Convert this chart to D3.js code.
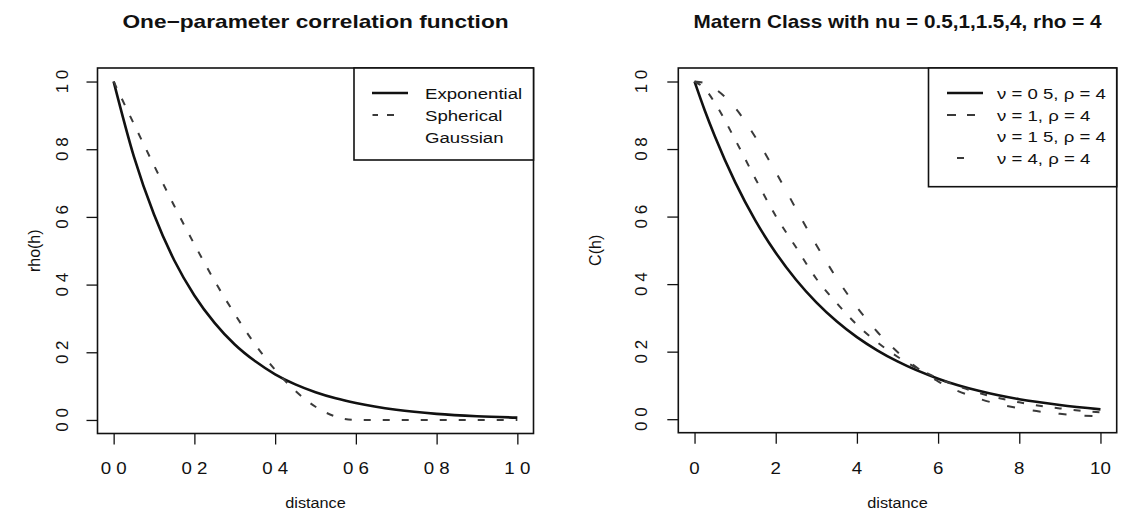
<!DOCTYPE html>
<html>
<head>
<meta charset="utf-8">
<script src="https://cdn.jsdelivr.net/npm/d3@7"></script>
<style>
  body { margin: 0; background: #fff; }
  svg { display: block; }
  text { font-family: "Liberation Sans", Arial, Helvetica, sans-serif; fill: #111; }
</style>
</head>
<body>
<svg id="chart" width="1124" height="523"></svg>
<script>
// ---- Left panel: one-parameter correlation functions, distance 0..1 ----
const leftDistance   = [0, 0.05, 0.1, 0.15, 0.2, 0.25, 0.3, 0.35, 0.4, 0.45, 0.5, 0.55, 0.6, 0.7, 0.8, 0.9, 1.0];
const exponentialRho = [1, 0.779, 0.607, 0.472, 0.368, 0.287, 0.223, 0.174, 0.135, 0.105, 0.082, 0.064, 0.050, 0.030, 0.018, 0.011, 0.007];
const sphericalRho   = [1, 0.875, 0.752, 0.633, 0.519, 0.411, 0.313, 0.224, 0.148, 0.086, 0.039, 0.010, 0, 0, 0, 0, 0];
const leftXTicks  = [0, 0.2, 0.4, 0.6, 0.8, 1.0];
const leftXLabels = ["0 0", "0 2", "0 4", "0 6", "0 8", "1 0"];
const leftLegend  = ["Exponential", "Spherical", "Gaussian"];

// ---- Right panel: Matern class, rho = 4, distance 0..10 ----
const rightDistance = [0, 0.25, 0.5, 1, 1.5, 2, 2.5, 3, 3.5, 4, 4.5, 5, 6, 7, 8, 9, 10];
const maternNu05 = [1, 0.915, 0.838, 0.702, 0.588, 0.493, 0.413, 0.346, 0.290, 0.243, 0.204, 0.171, 0.120, 0.084, 0.059, 0.042, 0.029];
const maternNu1  = [1, 0.979, 0.937, 0.828, 0.712, 0.602, 0.509, 0.416, 0.344, 0.280, 0.228, 0.185, 0.121, 0.078, 0.050, 0.032, 0.020];
const maternNu4  = [1, 0.995, 0.979, 0.922, 0.835, 0.732, 0.623, 0.516, 0.418, 0.332, 0.259, 0.199, 0.112, 0.061, 0.032, 0.016, 0.008];
const rightXTicks  = [0, 2, 4, 6, 8, 10];
const rightXLabels = ["0", "2", "4", "6", "8", "10"];
const rightLegend  = ["\u03bd = 0 5, \u03c1 = 4", "\u03bd = 1, \u03c1 = 4", "\u03bd = 1 5, \u03c1 = 4", "\u03bd = 4, \u03c1 = 4"];

// ---- Shared y axis ----
const yTicks  = [0, 0.2, 0.4, 0.6, 0.8, 1.0];
const yLabels = ["0 0", "0 2", "0 4", "0 6", "0 8", "1 0"];

// Line styles
const SOLID   = { stroke: "#111", width: 2.6, dash: null };
const DASHED  = { stroke: "#3a3a3a", width: 2, dash: "7,12" };
const DOTDASH = { stroke: "#3a3a3a", width: 2, dash: "8,18" };

const SX = 1.18; // horizontal glyph scale for horizontal text
const svg = d3.select("#chart");

function hText(parent, x, y, str, o = {}) {
  return parent.append("text")
    .attr("transform", `translate(${x},${y}) scale(${o.sx ?? SX},1)`)
    .attr("text-anchor", o.anchor || "start")
    .attr("font-size", o.size || 16)
    .attr("font-weight", o.weight || "normal")
    .text(str);
}
function vText(parent, x, y, str, o = {}) {
  return parent.append("text")
    .attr("transform", `translate(${x},${y}) rotate(-90)`)
    .attr("text-anchor", "middle")
    .attr("font-size", o.size || 16)
    .text(str);
}
function styleLine(sel, st) {
  sel.attr("fill", "none")
    .attr("stroke", st.stroke)
    .attr("stroke-width", st.width)
    .attr("stroke-linejoin", "round");
  if (st.dash) sel.attr("stroke-dasharray", st.dash);
  return sel;
}

function panel(cfg) {
  const b = cfg.box;
  const xPad = (cfg.xDomain[1] - cfg.xDomain[0]) * 0.04;
  const yPad = (cfg.yDomain[1] - cfg.yDomain[0]) * 0.04;
  const x = d3.scaleLinear().domain([cfg.xDomain[0] - xPad, cfg.xDomain[1] + xPad]).range([b.left, b.right]);
  const y = d3.scaleLinear().domain([cfg.yDomain[0] - yPad, cfg.yDomain[1] + yPad]).range([b.bottom, b.top]);
  const g = svg.append("g");

  // curves
  const line = d3.line().x(d => x(d[0])).y(d => y(d[1])).curve(d3.curveMonotoneX);
  cfg.series.forEach(s => {
    const pts = s.x.map((v, i) => [v, s.y[i]]);
    styleLine(g.append("path").datum(pts).attr("d", line), s.style);
  });

  // axes (ticks only; the frame supplies the axis lines)
  const xAxis = g.append("g").attr("transform", `translate(0,${b.bottom})`)
    .call(d3.axisBottom(x).tickValues(cfg.xTicks).tickSize(11).tickFormat(""));
  const yAxis = g.append("g").attr("transform", `translate(${b.left},0)`)
    .call(d3.axisLeft(y).tickValues(yTicks).tickSize(11).tickFormat(""));
  [xAxis, yAxis].forEach(a => {
    a.select(".domain").remove();
    a.selectAll("line").attr("stroke", "#111").attr("stroke-width", 1.3);
  });
  cfg.xTicks.forEach((t, i) => hText(g, x(t), 474, cfg.xLabels[i], { anchor: "middle", size: 17, sx: 1.1 }));
  yTicks.forEach((t, i) => vText(g, cfg.yLabelX, y(t), yLabels[i], { size: 17 }));

  // frame
  g.append("rect").attr("x", b.left).attr("y", b.top)
    .attr("width", b.right - b.left).attr("height", b.bottom - b.top)
    .attr("fill", "none").attr("stroke", "#111").attr("stroke-width", 1.6);

  // titles
  const cx = (b.left + b.right) / 2;
  hText(g, cx, 28, cfg.title, { anchor: "middle", size: 18, weight: "bold", sx: cfg.titleSx });
  hText(g, cx, 508, "distance", { anchor: "middle", size: 15.5, sx: 1.05 });
  vText(g, cfg.ylabX, (b.top + b.bottom) / 2, cfg.ylab, { size: 16 });

  // legend
  const L = cfg.legend;
  g.append("rect").attr("x", L.x0).attr("y", b.top).attr("width", b.right - L.x0).attr("height", L.y1 - b.top)
    .attr("fill", "#fff").attr("stroke", "#111").attr("stroke-width", 1.6);
  L.labels.forEach((lab, i) => {
    const ry = L.rows[i];
    const st = L.styles[i];
    if (st) {
      styleLine(g.append("line").attr("x1", L.sx0).attr("x2", L.sx1).attr("y1", ry).attr("y2", ry), st)
        .attr("stroke-dasharray", L.dashes[i]);
    }
    hText(g, L.tx, ry + 5.5, lab, { size: 15.5, sx: 1.2 });
  });
}

panel({
  box: { left: 97.5, right: 533.5, top: 68, bottom: 433.5 },
  xDomain: [0, 1], yDomain: [0, 1],
  xTicks: leftXTicks, xLabels: leftXLabels,
  yLabelX: 68, ylabX: 40, ylab: "rho(h)",
  title: "One\u2212parameter correlation function", titleSx: 1.26,
  series: [
    { x: leftDistance, y: exponentialRho, style: SOLID },
    { x: leftDistance, y: sphericalRho, style: DASHED }
  ],
  legend: {
    x0: 354, y1: 160, sx0: 372, sx1: 408, tx: 425,
    rows: [93, 115, 137],
    labels: leftLegend,
    styles: [SOLID, DASHED, null],
    dashes: [null, "0,0.5,5.5,9,7,30", null]
  }
});

panel({
  box: { left: 678.3, right: 1116.7, top: 68, bottom: 432.7 },
  xDomain: [0, 10], yDomain: [0, 1],
  xTicks: rightXTicks, xLabels: rightXLabels,
  yLabelX: 647, ylabX: 601, ylab: "C(h)",
  title: "Matern Class with nu = 0.5,1,1.5,4, rho = 4", titleSx: 1.15,
  series: [
    { x: rightDistance, y: maternNu05, style: SOLID },
    { x: rightDistance, y: maternNu1, style: DASHED },
    { x: rightDistance, y: maternNu4, style: DOTDASH }
  ],
  legend: {
    x0: 928.5, y1: 186.7, sx0: 947, sx1: 983, tx: 997,
    rows: [93, 115, 136.5, 158],
    labels: rightLegend,
    styles: [SOLID, DASHED, null, DOTDASH],
    dashes: [null, "9,11,8,30", null, "0,10,7,40"]
  }
});
</script>
</body>
</html>
